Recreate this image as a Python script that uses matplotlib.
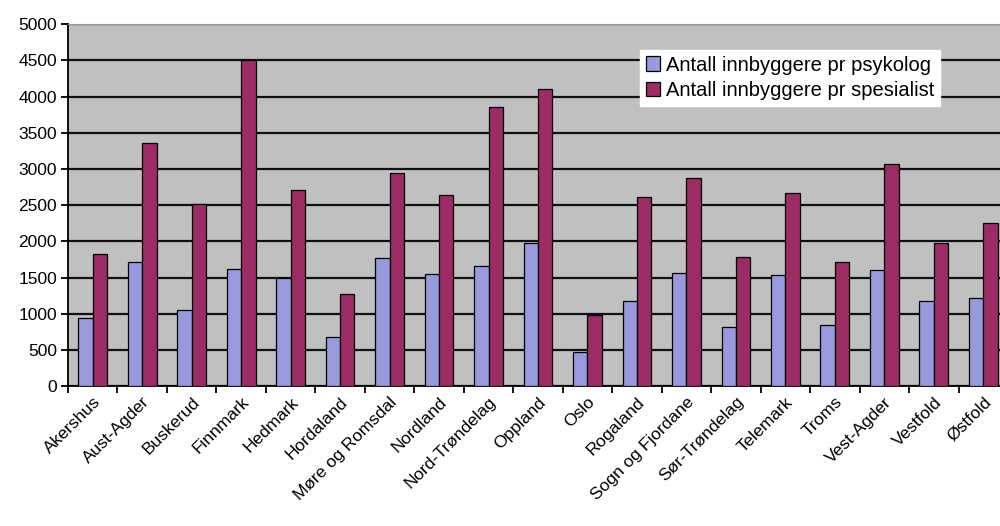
import matplotlib.pyplot as plt
import numpy as np

fylker = ['Akershus', 'Aust-Agder', 'Buskerud', 'Finnmark', 'Hedmark',
          'Hordaland', 'Møre og Romsdal', 'Nordland', 'Nord-Trøndelag',
          'Oppland', 'Oslo', 'Rogaland', 'Sogn og Fjordane', 'Sør-Trøndelag',
          'Telemark', 'Troms', 'Vest-Agder', 'Vestfold', 'Østfold']
psykolog = [940, 1710, 1050, 1615, 1490, 675, 1770, 1545, 1655, 1975,
            470, 1175, 1560, 815, 1535, 845, 1600, 1175, 1215]
spesialist = [1825, 3355, 2515, 4500, 2705, 1270, 2940, 2640, 3855, 4100,
              980, 2610, 2870, 1780, 2665, 1710, 3065, 1975, 2250]
labels = ['Antall innbyggere pr psykolog', 'Antall innbyggere pr spesialist']
yticks = [0, 500, 1000, 1500, 2000, 2500, 3000, 3500, 4000, 4500, 5000]

plt.rcParams['font.family'] = ['Liberation Sans', 'DejaVu Sans']

fig = plt.figure(figsize=(10, 5.26), dpi=100)
ax = fig.add_axes([0.068, 0.266, 0.94, 0.688])

pos = np.arange(len(fylker))
width = 0.29
ax.set_facecolor('#C0C0C0')
ax.bar(pos - width / 2, psykolog, width, color='#9999DD',
       edgecolor='black', linewidth=0.9, label=labels[0], zorder=3)
ax.bar(pos + width / 2, spesialist, width, color='#9B2D64',
       edgecolor='black', linewidth=0.9, label=labels[1], zorder=3)

ax.set_xlim(-0.5, len(fylker) - 0.5)
ax.set_ylim(0, 5000)
ax.set_yticks(yticks)
ax.yaxis.grid(True, color='#111111', linewidth=1.6, zorder=1)
ax.tick_params(axis='y', direction='out', length=5, labelsize=12.5,
               width=1.3, pad=3)

ax.set_xticks(np.arange(len(fylker) + 1) - 0.5)
ax.set_xticklabels([])
ax.tick_params(axis='x', which='major', direction='out', length=5, width=1.3)
ax.set_xticks(pos, minor=True)
ax.set_xticklabels(fylker, minor=True, rotation=45, ha='right',
                   rotation_mode='anchor', fontsize=12.5)
ax.tick_params(axis='x', which='minor', length=0, pad=6)

for side in ['top', 'right']:
    ax.spines[side].set_color('#999999')
ax.spines['left'].set_linewidth(1.3)
ax.spines['bottom'].set_linewidth(1.3)

leg = ax.legend(loc='upper left', bbox_to_anchor=(0.608, 0.93),
                fontsize=14.5, frameon=True, fancybox=False, framealpha=1,
                edgecolor='white', handlelength=0.7, handleheight=0.7,
                handletextpad=0.3, borderpad=0.3, labelspacing=0.3,
                borderaxespad=0)
leg.set_zorder(5)

fig.savefig('out.png', dpi=100)
